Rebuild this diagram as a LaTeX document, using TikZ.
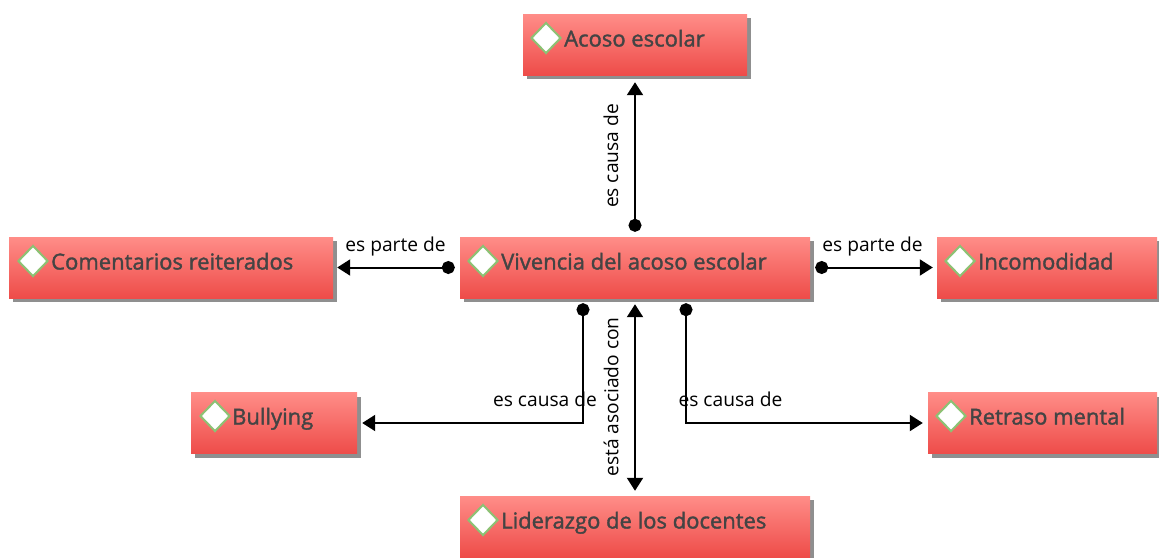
\documentclass[tikz,border=0pt]{standalone}
\usepackage{fontspec}
\setmainfont{Open Sans}
\newfontfamily\titlefont[FakeBold=1.6]{Open Sans}
\usetikzlibrary{shapes.geometric, arrows.meta, positioning, calc, shadows}
\definecolor{boxtop}{HTML}{FF8D88}
\definecolor{boxbottom}{HTML}{EE4C49}
\definecolor{boxtext}{HTML}{444444}
\definecolor{leafgreen}{HTML}{8CC274}

\begin{document}
\begin{tikzpicture}
  [
    x=1pt, y=-1pt,
    Box/.style={rectangle, top color=boxtop, bottom color=boxbottom, minimum height=61pt, inner sep=0pt,
      drop shadow={shadow xshift=4pt, shadow yshift=-4pt, fill=black!55, opacity=0.8}},
    Leaf/.style={diamond, draw=leafgreen, fill=white, line width=2pt, minimum width=30pt, minimum height=31pt, inner sep=0pt},
    Title/.style={font=\fontsize{22}{24}\selectfont\titlefont, text=boxtext, inner sep=0pt, anchor=west, text height=19pt, text depth=2pt},
    Tag/.style={font=\fontsize{19.2}{22}\selectfont, text=black, inner sep=0pt},
    Link/.style={draw, line width=2pt, {Circle[length=13pt]}-{Triangle[length=13pt, width=16pt]}}
  ]
  \useasboundingbox (0,0) rectangle (1159,557);

  % Boxes
  \node[Box, minimum width=224pt] (acoso) at (635, 44.5) {};
  \node[Box, minimum width=324pt] (comentarios) at (171, 267.5) {};
  \node[Box, minimum width=350pt] (vivencia) at (635, 267.5) {};
  \node[Box, minimum width=220pt] (incomodidad) at (1047, 267.5) {};
  \node[Box, minimum width=166pt] (bullying) at (274, 423) {};
  \node[Box, minimum width=229pt] (retraso) at (1042.5, 423) {};
  \node[Box, minimum width=350pt] (liderazgo) at (635, 526.5) {};

  % Leaves
  \node[Leaf] (leaf1) at (546, 38) {};
  \node[Leaf] (leaf2) at (33, 261) {};
  \node[Leaf] (leaf3) at (483, 261) {};
  \node[Leaf] (leaf4) at (960, 261) {};
  \node[Leaf] (leaf5) at (215, 416) {};
  \node[Leaf] (leaf6) at (951, 416) {};
  \node[Leaf] (leaf7) at (483, 520) {};

  % Titles
  \node[Title, right=2pt of leaf1] (title1) {Acoso escolar};
  \node[Title, right=2pt of leaf2] (title2) {Comentarios reiterados};
  \node[Title, right=2pt of leaf3] (title3) {Vivencia del acoso escolar};
  \node[Title, right=2pt of leaf4] (title4) {Incomodidad};
  \node[Title, right=1pt of leaf5] (title5) {Bullying};
  \node[Title, right=2pt of leaf6] (title6) {Retraso mental};
  \node[Title, right=2pt of leaf7] (title7) {Liderazgo de los docentes};

  % Lines
  \path [Link, shorten <=5pt, shorten >=7pt] (vivencia) -- (acoso);
  \path [Link, shorten <=5pt, shorten >=4pt] (vivencia) -- (comentarios);
  \path [Link, shorten <=5pt, shorten >=4pt] (vivencia) -- (incomodidad);
  \path [Link, shorten <=5pt, shorten >=5pt] ($(vivencia.south)+(-52,0)$) |- (bullying);
  \path [Link, shorten <=5pt, shorten >=5pt] ($(vivencia.south)+(51,0)$) |- (retraso);
  \path [draw, line width=2pt, {Triangle[length=13pt, width=16pt]}-{Triangle[length=13pt, width=16pt]}, shorten <=6pt, shorten >=5pt] (vivencia) -- (liderazgo);

  % Labels
  \node[Tag, rotate=90] (tag1) at (611, 156) {es causa de};
  \node[Tag] (tag2) at (395.5, 246.5) {es parte de};
  \node[Tag] (tag3) at (872.5, 246.5) {es parte de};
  \node[Tag] (tag4) at (545, 399.5) {es causa de};
  \node[Tag] (tag5) at (730.5, 399.5) {es causa de};
  \node[Tag, rotate=90] (tag6) at (611, 397) {está asociado con};

\end{tikzpicture}
\end{document}
